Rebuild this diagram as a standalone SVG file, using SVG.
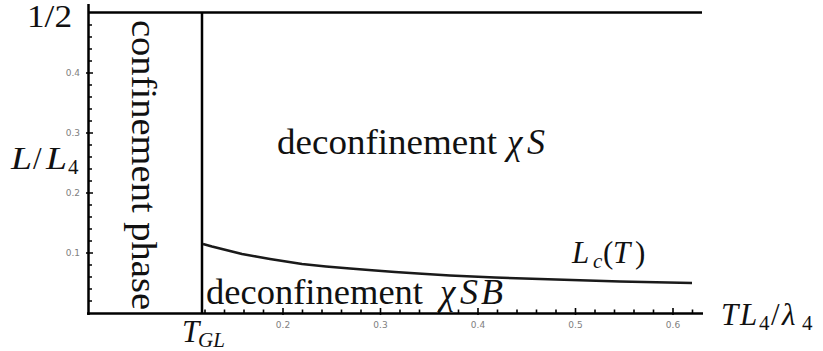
<svg xmlns="http://www.w3.org/2000/svg" width="823" height="351" viewBox="0 0 823 351">
<style>
.ax{stroke:#000;stroke-width:2.5;fill:none}
.tk{stroke:#000;stroke-width:1.6;fill:none}
.crv{stroke:#1a1a1a;stroke-width:2.6;fill:none;stroke-linejoin:round}
.tl{font-family:"DejaVu Sans",sans-serif;font-size:9px;fill:#808080}
.rm{font-family:"Liberation Serif",serif;fill:#111}
.it{font-family:"Liberation Serif",serif;font-style:italic;fill:#111}
</style>
<rect width="823" height="351" fill="#fff"/>
<g id="axes">
<line class="ax" x1="88.5" y1="4" x2="88.5" y2="315"/>
<line class="ax" x1="87" y1="313.5" x2="703" y2="313.5"/>
<path class="tk" d="M88 301h4M88 289h4M88 277h4M88 265h4M88 241h4M88 229h4M88 217h4M88 205h4M88 181h4M88 169h4M88 157h4M88 145h4M88 121h4M88 109h4M88 97h4M88 85h4M88 61h4M88 49h4M88 37h4M88 25h4"/>
<path class="tk" d="M86 253h7M86 193h7M86 133h7M86 73h7"/>
<path class="tk" d="M205 314v-4.5M224.5 314v-4.5M244 314v-4.5M263.5 314v-4.5M302.5 314v-4.5M322 314v-4.5M341.5 314v-4.5M361 314v-4.5M400 314v-4.5M419.5 314v-4.5M439 314v-4.5M458.5 314v-4.5M497.5 314v-4.5M517 314v-4.5M536.5 314v-4.5M556 314v-4.5M595 314v-4.5M614.5 314v-4.5M634 314v-4.5M653.5 314v-4.5M692.5 314v-4.5"/>
<path class="tk" d="M283 315v-7M380.5 315v-7M478 315v-7M575.5 315v-7M673 315v-7"/>
<g text-anchor="end">
<text class="tl" x="80" y="256">0.1</text>
<text class="tl" x="80" y="196">0.2</text>
<text class="tl" x="80" y="136">0.3</text>
<text class="tl" x="80" y="76">0.4</text>
</g>
<g text-anchor="middle">
<text class="tl" x="283" y="328">0.2</text>
<text class="tl" x="380.5" y="328">0.3</text>
<text class="tl" x="478" y="328">0.4</text>
<text class="tl" x="575.5" y="328">0.5</text>
<text class="tl" x="673" y="328">0.6</text>
</g>
</g>
<g id="boundaries">
<line class="ax" x1="88" y1="12.5" x2="702" y2="12.5"/>
<line class="ax" x1="202" y1="12" x2="202" y2="314"/>
<polyline class="crv" points="203,244 212,246.5 222,249 232,251.5 242,254 256,256.5 270,259 286,261.5 302,264 326,266.5 350,268.5 372,270.3 395,272 422,273.8 450,275.5 495,277.5 540,279 580,280.3 620,281.5 656,282.3 692,283"/>
</g>
<g id="labels">
<text class="rm" x="27" y="27" font-size="31" textLength="45" lengthAdjust="spacingAndGlyphs">1/2</text>
<g id="ylabel">
<text class="it" x="11" y="169" font-size="31" textLength="21" lengthAdjust="spacingAndGlyphs">L</text>
<text class="rm" x="33" y="169" font-size="31">/</text>
<text class="it" x="46" y="169" font-size="31" textLength="21" lengthAdjust="spacingAndGlyphs">L</text>
<text class="rm" x="68" y="174" font-size="21">4</text>
</g>
<g id="xlabel">
<text class="it" x="721" y="325" font-size="31">T</text>
<text class="it" x="740" y="325" font-size="31">L</text>
<text class="rm" x="759" y="330" font-size="21">4</text>
<text class="rm" x="771" y="325" font-size="31">/</text>
<text class="it" x="782" y="325" font-size="31">λ</text>
<text class="rm" x="802" y="330" font-size="21">4</text>
</g>
<g id="tgl">
<text class="it" x="182" y="342" font-size="31">T</text>
<text class="it" x="198" y="347" font-size="21">GL</text>
</g>
<g id="lc">
<text class="it" x="572" y="263" font-size="31">L</text>
<text class="it" x="593" y="268" font-size="21">c</text>
<text class="rm" x="603" y="263" font-size="31">(</text>
<text class="it" x="613" y="263" font-size="31">T</text>
<text class="rm" x="635" y="263" font-size="31">)</text>
</g>
<text id="confinement" class="rm" font-size="36" transform="translate(132,20) rotate(90)" textLength="290" lengthAdjust="spacingAndGlyphs">confinement phase</text>
<g id="deconfS">
<text class="rm" x="277" y="154" font-size="35" textLength="220" lengthAdjust="spacingAndGlyphs">deconfinement</text>
<text class="it" x="507" y="154" font-size="35">χ</text>
<text class="it" x="527" y="154" font-size="36">S</text>
</g>
<g id="deconfSB">
<text class="rm" x="206" y="304" font-size="35" textLength="217" lengthAdjust="spacingAndGlyphs">deconfinement</text>
<text class="it" x="440" y="304" font-size="35">χ</text>
<text class="it" x="460" y="304" font-size="36">S</text>
<text class="it" x="481" y="304" font-size="36">B</text>
</g>
</g>
</svg>
